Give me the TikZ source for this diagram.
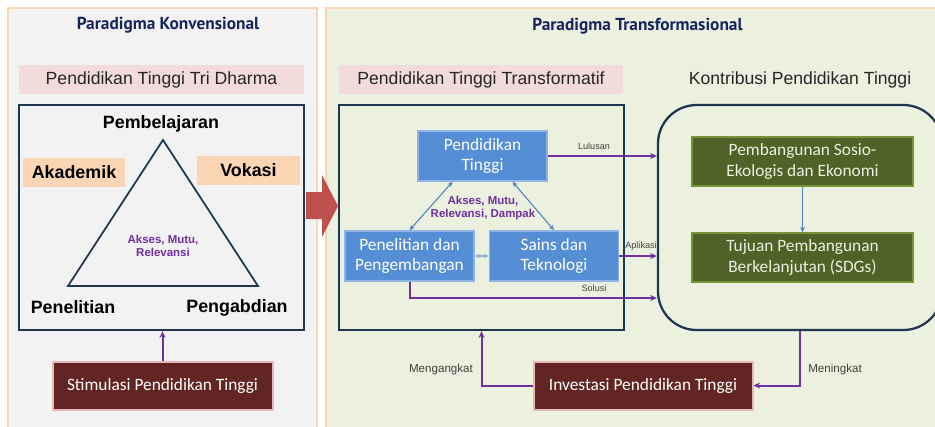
\documentclass[tikz,border=0pt]{standalone}
\usepackage{fontspec}
\setmainfont{Liberation Sans}
\newfontfamily\calfont{Carlito}
\newfontfamily\ttlfont{PT Sans}
\usetikzlibrary{arrows.meta}
\definecolor{leftbg}{HTML}{F2F2F2}
\definecolor{rightbg}{HTML}{EBF1DE}
\definecolor{panelb}{HTML}{FCD5B5}
\definecolor{pinkband}{HTML}{F2DCDB}
\definecolor{framec}{HTML}{1F3550}
\definecolor{navy}{HTML}{17255C}
\definecolor{orangel}{HTML}{FCD5B5}
\definecolor{purp}{HTML}{7030A0}
\definecolor{boxblue}{HTML}{558ED5}
\definecolor{boxblueb}{HTML}{8EB4E3}
\definecolor{arrblue}{HTML}{4F81BD}
\definecolor{lightarr}{HTML}{95B3D7}
\definecolor{greenbox}{HTML}{4F6228}
\definecolor{greenb}{HTML}{77933C}
\definecolor{greentext}{HTML}{EBF1DE}
\definecolor{redbox}{HTML}{632523}
\definecolor{redb}{HTML}{E6B9B8}
\definecolor{redarrow}{HTML}{C0504D}
\definecolor{txt}{HTML}{262626}
\definecolor{labc}{HTML}{404040}
\begin{document}
\begin{tikzpicture}[x=0.75pt,y=-0.75pt,
  sz/.style 2 args={minimum width=#1*0.75pt,minimum height=#2*0.75pt},
  titlef/.style={font=\ttlfont\bfseries\fontsize{13}{15}\selectfont, text=navy, inner sep=0},
  band/.style={fill=pinkband, inner sep=0, text=txt, font=\fontsize{13.2}{15}\selectfont},
  framebox/.style={draw=framec, line width=1.7pt, inner sep=0},
  boldlab/.style={font=\bfseries\fontsize{13.4}{15}\selectfont, text=black, inner sep=0},
  orangebox/.style={fill=orangel, inner sep=0, font=\bfseries\fontsize{13.4}{15}\selectfont, text=black},
  smallpurp/.style={font=\bfseries\fontsize{8.6}{10}\selectfont, text=purp, align=center, inner sep=0},
  blueb/.style={fill=boxblue, draw=boxblueb, line width=1.2pt, text=white, font=\calfont\fontsize{13}{15.5}\selectfont, align=center, inner sep=0},
  greenbx/.style={fill=greenbox, draw=greenb, line width=1.2pt, text=greentext, font=\calfont\fontsize{13}{15.5}\selectfont, align=center, inner sep=0},
  redbx/.style={fill=redbox, draw=redb, line width=1.5pt, text=white, font=\calfont\fontsize{13}{15.5}\selectfont, align=center, inner sep=0},
  plink/.style={draw=purp, line width=1.5pt, -{Stealth[length=5pt,width=4.5pt]}},
  bdbl/.style={draw=arrblue, line width=0.8pt, {Stealth[length=4pt,width=3.5pt]}-{Stealth[length=4pt,width=3.5pt]}},
  lab/.style={font=\fontsize{6.8}{8}\selectfont, text=labc, inner sep=0},
  biglab/.style={font=\fontsize{8.7}{10}\selectfont, text=labc, inner sep=0}
]
\useasboundingbox (0,0) rectangle (935,426);
\fill[white] (0,0) rectangle (935,426);
% panels
\draw[draw=panelb, line width=1.5pt, fill=leftbg] (8,8) rectangle (317,436);
\draw[draw=panelb, line width=1.5pt, fill=rightbg] (326,8) rectangle (950,436);

% ---------- left panel ----------
\node[titlef] (t1) at (168,25) {Paradigma Konvensional};
\node[band, sz={285}{29}] (b1) at (161.5,79.5) {Pendidikan Tinggi Tri Dharma};
\node[framebox, sz={285}{225}] (tri) at (161.5,217.5) {};
\coordinate (apex) at (163,140);
\coordinate (bl) at (68,286);
\coordinate (br) at (258,286);
\draw[framec, line width=1.3pt, line join=miter] (apex) -- (bl) -- (br) -- cycle;
\node[boldlab] (pemb) at (161,124) {Pembelajaran};
\node[orangebox, sz={102}{29}] (akad) at (74,172.5) {Akademik};
\node[orangebox, sz={103}{29}] (vok) at (248.5,170) {Vokasi};
\node[smallpurp] (amr) at (163,246) {Akses, Mutu,\\Relevansi};
\node[boldlab] (pen1) at (73,307) {Penelitian};
\node[boldlab] (peng) at (237,308) {Pengabdian};
\node[redbx, sz={220}{48}] (stim) at (162.5,385.5) {Stimulasi Pendidikan Tinggi};
\draw[plink] (stim.north) -- (stim.north |- tri.south);

% red arrow between panels
\fill[redarrow] (306,192) -- (322,192) -- (322,175) -- (338,206) -- (322,237) -- (322,219) -- (306,219) -- cycle;

% ---------- right panel ----------
\node[titlef] (t2) at (637.5,26) {Paradigma Transformasional};
\node[band, sz={284}{29}] (b2) at (481,79.5) {Pendidikan Tinggi Transformatif};
\node[font=\fontsize{13.2}{15}\selectfont, text=txt, inner sep=0] (kt) at (800,80) {Kontribusi Pendidikan Tinggi};
\node[framebox, sz={285}{225}] (trans) at (481.5,217.5) {};
\node[framebox, sz={284}{225}, rounded corners=29pt] (kont) at (800,217.5) {};

\node[blueb, sz={129}{50}] (pt) at (482.5,156) {Pendidikan\\Tinggi};
\node[blueb, sz={129}{50}] (pen) at (409.5,256) {Penelitian dan\\Pengembangan};
\node[blueb, sz={129}{50}] (sains) at (554,256) {Sains dan\\Teknologi};
\node[smallpurp] (amrd) at (483,208) {Akses, Mutu,\\Relevansi, Dampak};
\draw[bdbl] ([xshift=-30*0.75pt]pt.south) -- (pen.north);
\draw[bdbl] ([xshift=30*0.75pt]pt.south) -- (sains.north);
\draw[draw=lightarr, line width=0.8pt, {Stealth[length=3.5pt,width=3.5pt]}-{Stealth[length=3.5pt,width=3.5pt]}] (pen.east) -- (sains.west);

\node[greenbx, sz={221}{49}] (g1) at (802.5,161.5) {Pembangunan Sosio-\\Ekologis dan Ekonomi};
\node[greenbx, sz={221}{49}] (g2) at (802.5,257.5) {Tujuan Pembangunan\\Berkelanjutan (SDGs)};
\draw[draw=arrblue, line width=0.8pt, -{Stealth[length=4pt,width=3.5pt]}] (g1.south) -- (g2.north);

% connectors to contribution box
\draw[plink] (pt.east) -- (pt.east -| kont.west);
\node[lab] (lul) at (594,146) {Lulusan};
\draw[plink] (sains.east) -- (sains.east -| kont.west);
\node[lab] (apl) at (641,246) {Aplikasi};
\coordinate (soly) at (0,298);
\draw[plink] (pen.south) |- (soly -| kont.west);
\node[lab] (sol) at (594,288) {Solusi};

\node[redbx, sz={219}{48}] (inv) at (643,385.5) {Investasi Pendidikan Tinggi};
\draw[plink] (kont.south) |- (inv.east);
\node[biglab] (men) at (835,369) {Meningkat};
\draw[plink] (inv.west) -| (trans.south);
\node[biglab] (meng) at (441,369) {Mengangkat};
\end{tikzpicture}
\end{document}
